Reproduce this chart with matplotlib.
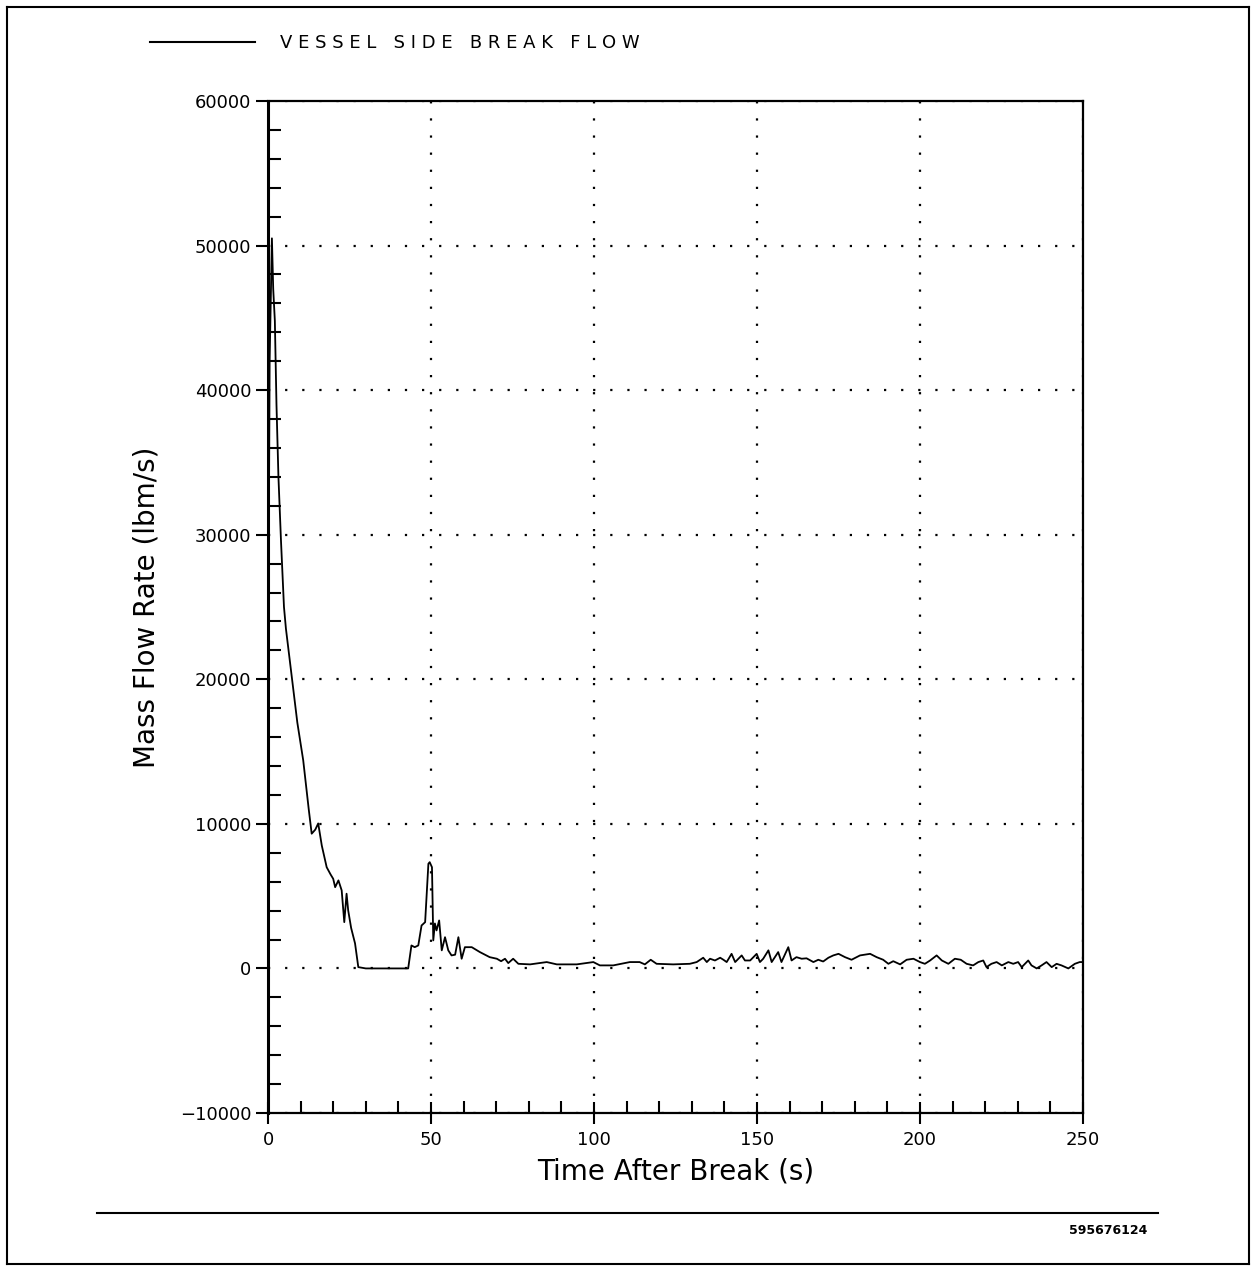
import matplotlib
matplotlib.use("Agg")
import matplotlib.pyplot as plt
from matplotlib.lines import Line2D

plt.rcParams['font.family'] = ['DejaVu Sans']

# ---- data ----
time_s = [0, 0.5, 1.2, 1.6, 2.1, 2.6, 3.2, 4.0, 4.9, 5.5, 7.3, 9.0, 10.8, 12.5,
          13.4, 14.5, 15.4, 16.5, 18.0, 19.2, 20.0, 20.6, 21.6, 22.6, 23.4, 24.1,
          24.6, 25.5, 26.7, 27.7, 30, 35, 40, 43.0,
          44.0, 45.0, 46.1, 47.1, 48.2, 49.2, 49.6, 50.3, 50.7, 51.2, 51.7, 52.5,
          53.3, 54.3, 55.3, 56.3, 57.4, 58.4, 59.4, 60.4, 62.5, 65.0, 68.0, 70.2,
          71.5, 72.7, 73.7, 75.2, 76.8, 80.4, 85.5, 88.6, 94.7, 99.8, 101.8,
          105.9, 111.0, 114.0, 115.6, 117.4, 119.2, 124.3, 129.4, 131.5, 133.5,
          134.6, 135.6, 137.1, 138.7, 139.7, 140.7, 142.2, 143.3, 145.3, 146.3,
          147.9, 149.9, 150.9, 151.9, 153.5, 154.5, 156.5, 157.5, 159.6, 160.6,
          162.1, 163.7, 165.2, 167.3, 168.8, 170.3, 171.9, 173.4, 175.0, 177.0,
          179.0, 181.6, 184.7, 186.7, 188.7, 190.3, 191.8, 193.9, 195.9, 198.0,
          200.0, 201.5, 203.1, 205.1, 206.7, 208.7, 210.7, 212.5, 214.3, 216.3,
          217.9, 219.4, 220.4, 221.9, 223.5, 225.1, 227.1, 228.6, 230.1, 231.2,
          233.2, 234.2, 235.8, 237.3, 238.8, 240.4, 241.9, 243.4, 245.5, 247.5,
          249.0, 250.0]
flow_lbm_s = [18000, 42000, 50500, 47000, 44800, 39000, 34000, 29500, 25000, 23500,
              20150, 17000, 14400, 11000, 9320, 9600, 10030, 8500, 7000, 6500,
              6200, 5620, 6090, 5400, 3200, 5170, 4010, 2800, 1730, 90, 0, 0, 0, 0,
              1590, 1470, 1590, 2970, 3200, 7240, 7350, 7000, 1940, 3110, 2630, 3320,
              1250, 2160, 1250, 900, 950, 2160, 670, 1470, 1470, 1130, 780, 670,
              500, 670, 370, 670, 320, 280, 440, 280, 280, 440, 210,
              210, 440, 440, 280, 600, 320, 280, 320, 440, 740,
              440, 670, 550, 740, 600, 440, 1010, 440, 900, 550,
              550, 1010, 440, 670, 1250, 440, 1130, 440, 1470, 550,
              780, 670, 700, 440, 600, 480, 740, 900, 1010, 780,
              600, 900, 1010, 780, 600, 320, 500, 280, 600, 670,
              440, 320, 550, 900, 550, 320, 670, 600, 320, 210,
              440, 550, 90, 320, 440, 210, 440, 320, 440, 90,
              550, 210, 0, 210, 440, 90, 320, 210, 0, 320,
              440, 440]

series_label = "V E S S E L   S I D E   B R E A K   F L O W"
x_label = "Time After Break (s)"
y_label = "Mass Flow Rate (lbm/s)"
x_ticks = [0, 50, 100, 150, 200, 250]
y_ticks = [-10000, 0, 10000, 20000, 30000, 40000, 50000, 60000]
doc_id = "595676124"

W, H = 1255, 1266
fig = plt.figure(figsize=(W / 100, H / 100), dpi=100)
ax = fig.add_axes([268 / W, 1 - 1113 / H, (1083 - 268) / W, (1113 - 101) / H])

ax.plot(time_s, flow_lbm_s, color='black', lw=1.3)

ax.set_xlim(0, 250)
ax.set_ylim(-10000, 60000)
ax.set_xticks(x_ticks)
ax.set_yticks(y_ticks)
ax.set_xticklabels([str(v) for v in x_ticks])
ax.set_yticklabels([("\u2212" + str(-v)) if v < 0 else str(v) for v in y_ticks])
ax.set_xticks(range(0, 251, 10), minor=True)
ax.set_yticks(range(-10000, 60001, 2000), minor=True)

ax.tick_params(axis='y', which='major', direction='out', length=9, width=1.5,
               labelsize=13, pad=3)
ax.tick_params(axis='x', which='major', direction='inout', length=16, width=1.5,
               labelsize=13, pad=5)
ax.tick_params(axis='both', which='minor', direction='in', length=9, width=1.5)

for s in ax.spines.values():
    s.set_linewidth(1.6)
ax.spines['left'].set_linewidth(2.2)

ax.grid(True, which='major', color='black', linestyle=(0, (1, 6.7)), lw=1.6)

ax.set_xlabel(x_label, fontsize=20, labelpad=6)
ax.set_ylabel(y_label, fontsize=20, labelpad=14)

# legend entry at the top
fig.add_artist(Line2D([150 / W, 255 / W], [1 - 42 / H, 1 - 42 / H],
                      color='black', lw=1.5))
fig.text(280 / W, 1 - 43 / H, series_label, fontsize=13, va='center',
         ha='left')

# bottom rule and document id
fig.add_artist(Line2D([97 / W, 1158 / W], [1 - 1213 / H, 1 - 1213 / H],
                      color='black', lw=1.5))
fig.text(1108 / W, 1 - 1231 / H, doc_id, fontsize=9, va='center', ha='center',
         fontweight='bold')

# page frame
fx0, fx1 = 7 / W, 1249 / W
fy0, fy1 = 1 - 1264 / H, 1 - 7 / H
for xs, ys in [([fx0, fx0], [fy0, fy1]), ([fx1, fx1], [fy0, fy1]),
               ([fx0, fx1], [fy1, fy1]), ([fx0, fx1], [fy0, fy0])]:
    fig.add_artist(Line2D(xs, ys, color='black', lw=1.5))

fig.savefig("out.png", dpi=100)
